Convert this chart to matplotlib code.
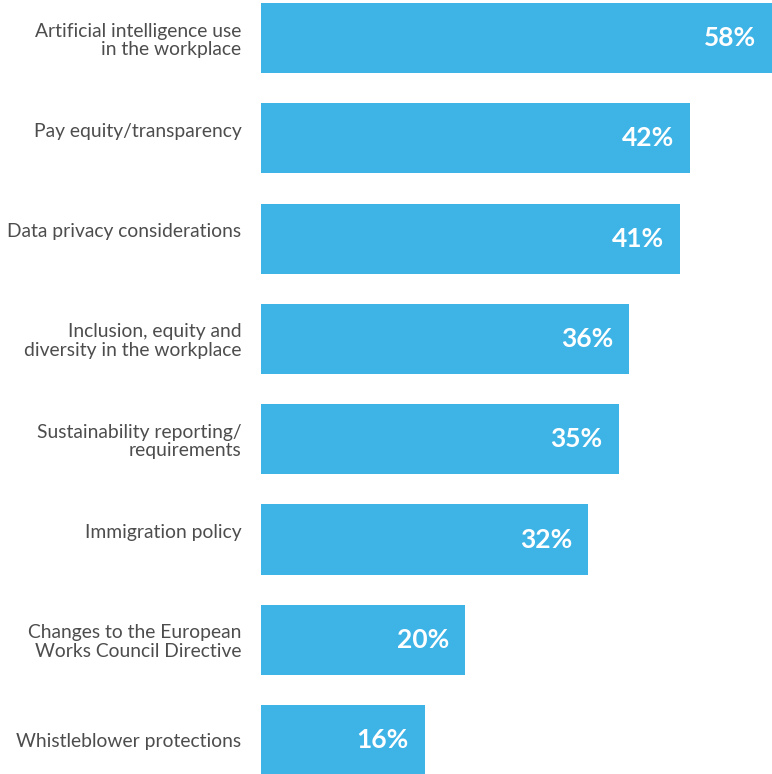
import matplotlib.pyplot as plt
import matplotlib.transforms as mtransforms

plt.rcParams['font.family'] = ['Lato', 'DejaVu Sans']

topics = [
    "Artificial intelligence use\nin the workplace",
    "Pay equity/transparency\n",
    "Data privacy considerations\n",
    "Inclusion, equity and\ndiversity in the workplace",
    "Sustainability reporting/\nrequirements",
    "Immigration policy\n",
    "Changes to the European\nWorks Council Directive",
    "Whistleblower protections",
]
shares = [58, 42, 41, 36, 35, 32, 20, 16]

bar_color = '#3db3e6'
text_color = '#4d4d4d'

fig = plt.figure(figsize=(7.72, 7.74), dpi=100)
ax = fig.add_axes([261 / 772, 0, 1 - 261 / 772, 1])

pos = list(range(len(shares)))
ax.barh(pos, shares, height=0.7, color=bar_color)

xmax = 50
ax.set_xlim(0, xmax)
ax.set_ylim(7.338, -0.379)

ax.set_yticks(pos, topics)
ax.tick_params(axis='y', length=0, pad=21, labelsize=13.9, labelcolor=text_color)
for lab in ax.get_yticklabels():
    lab.set_linespacing(1.1)
ax.tick_params(axis='y', pad=14)
ax.set_xticks([])
for s in ax.spines.values():
    s.set_visible(False)

# value labels sit inside the bar end (the longest bar runs off the frame)
shift = mtransforms.offset_copy(ax.transData, fig=fig, x=-16, y=0, units='dots')
for p, v in zip(pos, shares):
    ax.text(min(v, xmax), p, f"{v}%", transform=shift, ha='right', va='center',
            color='white', fontsize=19, fontweight='bold')

fig.savefig('out.png', dpi=100)
